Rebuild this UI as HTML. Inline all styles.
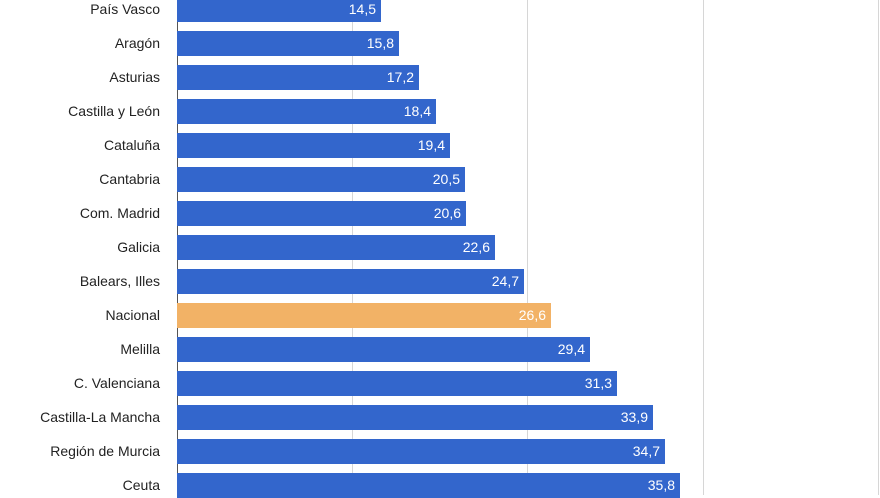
<!DOCTYPE html>
<html><head><meta charset="utf-8"><style>
body{margin:0;background:#fff;width:880px;height:495px;overflow:hidden;position:relative;font-family:"Liberation Sans",Arial,sans-serif}
.g{position:absolute;top:0;height:495px;width:1px;background:#d6d6d6}
.b{position:absolute;left:177px;height:25px;background:#3366cc}
.v{position:absolute;right:5px;top:0;line-height:25px;color:#fff;font-size:14px}
.l{position:absolute;right:720px;height:25px;line-height:25px;font-size:14px;color:#222;white-space:nowrap}
</style></head><body>
<div class="g" style="left:352px"></div>
<div class="g" style="left:527px"></div>
<div class="g" style="left:703px"></div>
<div class="g" style="left:878px"></div>
<div class="g" style="left:177px;background:#555"></div>
<div id="c"></div>
<script>
var d=[["País Vasco",14.5],["Aragón",15.8],["Asturias",17.2],["Castilla y León",18.4],["Cataluña",19.4],["Cantabria",20.5],["Com. Madrid",20.6],["Galicia",22.6],["Balears, Illes",24.7],["Nacional",26.6],["Melilla",29.4],["C. Valenciana",31.3],["Castilla-La Mancha",33.9],["Región de Murcia",34.7],["Ceuta",35.8]];
var h="";d.forEach(function(r,i){var t=-3+34*i,w=Math.round(r[1]*14.05);var c=r[0]=="Nacional"?"#f2b266":"#3366cc";
h+='<div class="l" style="top:'+t+'px">'+r[0]+'</div><div class="b" style="top:'+t+'px;width:'+w+'px;background:'+c+'"><span class="v">'+String(r[1]).replace(".",",")+'</span></div>';});
document.getElementById("c").innerHTML=h;
</script>
</body></html>
